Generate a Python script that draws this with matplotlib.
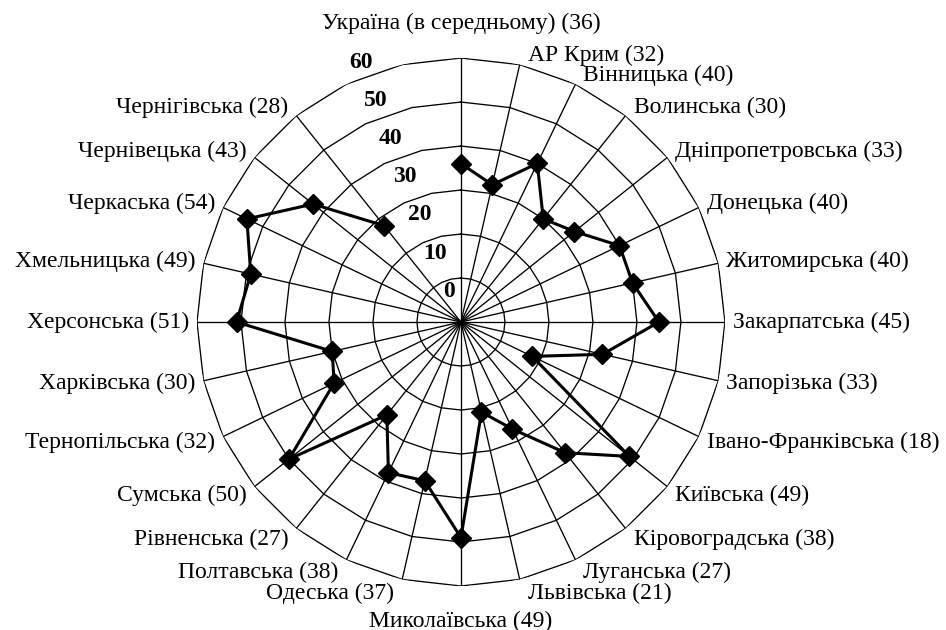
import matplotlib
matplotlib.use('Agg')
import matplotlib.pyplot as plt
import numpy as np

plt.rcParams['font.family'] = ['Liberation Serif', 'DejaVu Serif']

regions = ['Україна (в середньому)', 'АР Крим', 'Вінницька', 'Волинська',
           'Дніпропетровська', 'Донецька', 'Житомирська', 'Закарпатська',
           'Запорізька', 'Івано-Франківська', 'Київська', 'Кіровоградська',
           'Луганська', 'Львівська', 'Миколаївська', 'Одеська', 'Полтавська',
           'Рівненська', 'Сумська', 'Тернопільська', 'Харківська', 'Херсонська',
           'Хмельницька', 'Черкаська', 'Чернівецька', 'Чернігівська']
values = [36, 32, 40, 30, 33, 40, 40, 45, 33, 18, 49, 38, 27, 21, 49,
          37, 38, 27, 50, 32, 30, 51, 49, 54, 43, 28]
n_axes = 28  # two empty slots after Чернігівська
ticks = [0, 10, 20, 30, 40, 50, 60]

theta = np.arange(n_axes) * 2 * np.pi / n_axes

fig = plt.figure(figsize=(9.46, 6.3), dpi=100)
ax = fig.add_axes([0.2082, 0.0698, 0.5581, 0.8381], projection='polar')
ax.set_theta_zero_location('N')
ax.set_theta_direction(-1)
ax.set_ylim(0, ticks[-1])
ax.grid(False)
ax.spines['polar'].set_visible(False)
ax.set_xticks([])
ax.set_yticks([])

# polygon rings
ring_theta = np.append(theta, theta[0])
for t in ticks[1:]:
    ax.plot(ring_theta, np.full(len(ring_theta), t), color='black', lw=0.95)

# spokes
for i in range(len(regions)):
    ax.plot([theta[i], theta[i]], [0, ticks[-1]], color='black', lw=0.95)

# data line
ax.plot(theta[:len(values)], values, color='black', lw=2.2,
        marker='D', ms=10, zorder=3)

# category labels
for i, (name, v) in enumerate(zip(regions, values)):
    s, c = np.sin(theta[i]), np.cos(theta[i])
    if abs(s) < 0.1:
        ha, dx, dy = 'center', 0, 35 * np.sign(c)
    else:
        ha = 'left' if s > 0 else 'right'
        dx = 8 * np.sign(s)
        dy = 10 * c if c > 0 else 14 * c
    ax.annotate(f'{name} ({v})', xy=(theta[i], ticks[-1]), xytext=(dx, dy),
                textcoords='offset pixels', ha=ha, va='center', fontsize=17)

# radial tick labels
for t in ticks:
    ax.text(np.deg2rad(-21), 0.93 * t + 7.5, str(t), ha='center', va='center',
            fontsize=17, fontweight='bold')

fig.savefig('out.png', dpi=100)
